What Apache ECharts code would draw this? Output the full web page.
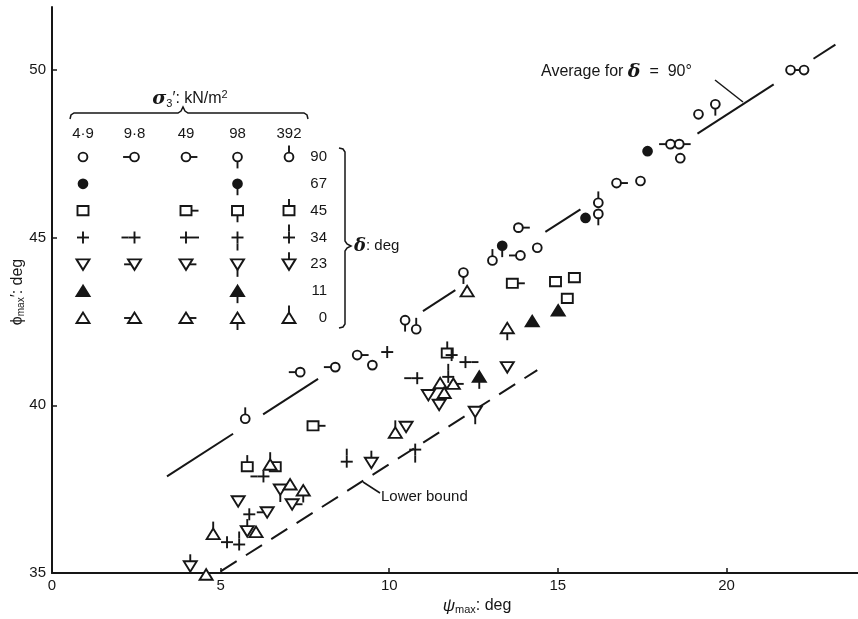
<!DOCTYPE html>
<html><head><meta charset="utf-8">
<script src="https://cdn.jsdelivr.net/npm/echarts@6/dist/echarts.min.js"></script>
<style>html,body{margin:0;padding:0;background:#fff}#c{width:858px;height:619px}</style>
</head><body><div id="c"></div>
<script>
// ---- data ----
const stressLabels = ['4·9','9·8','49','98','392'];           // σ3': kN/m2 (marker tick code 0..4)
const deltaLabels  = ['90','67','45','34','23','11','0'];     // δ: deg (row order)
const shapeKinds   = ['circle','dot','square','plus','down','solidUp','up'];
const legendCombos = [[0,1,2,3,4],[0,3],[0,2,3,4],[0,1,2,3,4],[0,1,2,3,4],[0,3],[0,1,2,3,4]];
const xTicks = [0,5,10,15,20];
const yTicks = [35,40,45,50];
// points: [psi_max, phi_max, stress code]
const delta90 = [[21.9,50.0,2],[22.3,50.0,0],[19.17,48.68,0],[19.67,48.98,3],[18.34,47.79,1],[18.6,47.79,2],
  [18.63,47.37,0],[16.74,46.63,2],[17.45,46.69,0],[16.2,46.04,4],[16.2,45.71,3],[13.83,45.3,2],[14.39,44.7,0],
  [13.06,44.32,4],[13.89,44.47,1],[12.2,43.96,3],[10.47,42.54,3],[10.8,42.27,4],[7.36,40.99,1],[8.4,41.14,1],
  [9.05,41.5,2],[9.5,41.2,0],[5.73,39.6,4]];
const delta67 = [[17.66,47.58,0],[15.82,45.59,0],[13.35,44.76,3]];
const delta45 = [[13.65,43.64,2],[14.93,43.69,0],[15.49,43.81,0],[15.28,43.19,0],[11.72,41.56,4],[7.74,39.39,2],
  [5.79,38.17,4],[6.62,38.17,0]];
const delta34 = [[9.94,41.59,0],[11.85,41.5,0],[12.26,41.29,2],[10.83,40.81,1],[11.75,40.85,4],[8.74,38.32,4],
  [10.77,38.68,3],[6.27,37.88,1],[5.85,36.75,0],[5.19,35.92,0],[5.55,35.85,4]];
const delta23 = [[13.5,41.14,0],[12.55,39.81,3],[10.5,39.36,0],[9.47,38.29,4],[11.16,40.31,0],[11.48,40.02,0],
  [5.52,37.14,0],[6.77,37.49,3],[7.12,37.05,2],[6.38,36.81,1],[5.79,36.25,4],[4.1,35.2,4]];
const delta11 = [[15.01,42.83,0],[14.24,42.51,0],[12.67,40.85,3]];
const delta0  = [[12.31,43.4,0],[13.5,42.3,3],[11.51,40.66,0],[11.9,40.64,2],[11.63,40.37,0],[10.18,39.18,4],
  [6.47,38.23,4],[7.06,37.64,0],[7.45,37.46,3],[6.05,36.22,0],[4.78,36.16,4],[4.57,34.95,0]];
const groups = [delta90, delta67, delta45, delta34, delta23, delta11, delta0];
// reference lines
const avgLine = [[3.41,37.88],[23.23,50.76]];
const avgSegmentsX = [[3.41,5.37],[6.26,7.89],[11.0,11.96],[14.63,15.67],[19.14,21.4],[22.58,23.23]];
const lowerLine = [[5.0,35.05],[14.39,41.05]];

// ---- drawing ----
const INK = '#161616';
const FONT = "'Liberation Sans', Arial, sans-serif";
const GREEK = "'DejaVu Serif', serif";

function marker(kind, s, x, y) {
  const lw = 1.9, L = 7, ch = [];
  const line = (x1,y1,x2,y2) => ch.push({type:'line', shape:{x1,y1,x2,y2}, style:{stroke:INK, lineWidth:lw, fill:null}});
  let hx, ht, hb, body = [];
  const open = {stroke:INK, lineWidth:lw, fill:'#fff'};
  const solid = {stroke:INK, lineWidth:lw, fill:INK};
  if (kind === 'circle' || kind === 'dot') {
    const r = 4.4; hx = ht = hb = r;
    body.push({type:'circle', shape:{cx:x, cy:y, r}, style: kind === 'dot' ? solid : open});
  } else if (kind === 'square') {
    hx = 5.5; ht = hb = 4.6;
    body.push({type:'rect', shape:{x:x-5.5, y:y-4.6, width:11, height:9.2}, style: open});
  } else if (kind === 'down') {
    hx = 3.4; ht = 5; hb = 5.5;
    body.push({type:'polygon', shape:{points:[[x-6.5,y-5],[x+6.5,y-5],[x,y+5.5]]}, style: open});
  } else if (kind === 'up' || kind === 'solidUp') {
    hx = 3.4; ht = 5.5; hb = 5;
    body.push({type:'polygon', shape:{points:[[x,y-5.5],[x-6.5,y+5],[x+6.5,y+5]]}, style: kind === 'solidUp' ? solid : open});
  } else { // plus
    hx = ht = hb = 6;
    line(x-6,y,x+6,y); line(x,y-6,x,y+6);
  }
  if (s === 1) line(x-hx, y, x-hx-L, y);
  if (s === 2) line(x+hx, y, x+hx+L, y);
  if (s === 3) line(x, y+hb, x, y+hb+L);
  if (s === 4) line(x, y-ht, x, y-ht-L);
  return ch.concat(body);
}

const series = [];
const avgY = x => avgLine[0][1] + (avgLine[1][1]-avgLine[0][1])*(x-avgLine[0][0])/(avgLine[1][0]-avgLine[0][0]);
avgSegmentsX.forEach(seg => series.push({
  type:'line', xAxisIndex:0, yAxisIndex:0, silent:true, symbol:'none', animation:false,
  data: seg.map(x => [x, avgY(x)]), lineStyle:{color:INK, width:2}
}));
series.push({type:'line', xAxisIndex:0, yAxisIndex:0, silent:true, symbol:'none', animation:false,
  data: lowerLine, lineStyle:{color:INK, width:2, type:[19,11]}});

groups.forEach((g, gi) => series.push({
  type:'custom', name: deltaLabels[gi], xAxisIndex:0, yAxisIndex:0, animation:false, clip:false, z:5,
  data: g,
  renderItem: (params, api) => {
    const p = api.coord([api.value(0), api.value(1)]);
    return {type:'group', children: marker(shapeKinds[gi], api.value(2), p[0], p[1])};
  }
}));

const legendData = [];
legendCombos.forEach((cols, r) => cols.forEach(c => legendData.push([c, r, c])));
series.push({
  type:'custom', xAxisIndex:1, yAxisIndex:1, animation:false, clip:false, z:5, data: legendData,
  renderItem: (params, api) => {
    const p = api.coord([api.value(0), api.value(1)]);
    return {type:'group', children: marker(shapeKinds[api.value(1)], api.value(2), p[0], p[1])};
  }
});

const braceStyle = {stroke:INK, lineWidth:1.5, fill:null};
const option = {
  backgroundColor:'#fff',
  animation:false,
  textStyle:{fontFamily:FONT, color:INK},
  grid:[
    {left:52, right:0, top:7, bottom:46, containLabel:false},
    {left:83, width:206, top:157, height:161, containLabel:false}
  ],
  xAxis:[
    {type:'value', gridIndex:0, min:0, max:23.9,
     axisLine:{show:true, lineStyle:{color:INK, width:2}},
     axisTick:{show:true, inside:true, length:5, lineStyle:{color:INK, width:1.5}, customValues:xTicks},
     axisLabel:{customValues:xTicks, color:INK, fontSize:15, fontFamily:FONT, margin:5},
     splitLine:{show:false}},
    {type:'category', gridIndex:1, position:'top', boundaryGap:false, data:stressLabels,
     axisLine:{show:false}, axisTick:{show:false}, splitLine:{show:false},
     axisLabel:{color:INK, fontSize:15, fontFamily:FONT, margin:16, interval:0}}
  ],
  yAxis:[
    {type:'value', gridIndex:0, min:35, max:51.88,
     axisLine:{show:true, lineStyle:{color:INK, width:2}},
     axisTick:{show:true, inside:true, length:5, lineStyle:{color:INK, width:1.5}, customValues:yTicks},
     axisLabel:{customValues:yTicks, color:INK, fontSize:15, fontFamily:FONT, margin:6},
     splitLine:{show:false}},
    {type:'category', gridIndex:1, position:'right', inverse:true, boundaryGap:false, data:deltaLabels,
     axisLine:{show:false}, axisTick:{show:false}, splitLine:{show:false},
     axisLabel:{color:INK, fontSize:15, fontFamily:FONT, margin:38, align:'right', interval:0}}
  ],
  series,
  graphic:[
    {type:'text', x:18, y:292, rotation:Math.PI/2, z:10,
     style:{text:'{a|ϕ}{s|max}{a|′: deg}', align:'center', verticalAlign:'middle', fill:INK,
       rich:{a:{fontSize:16, fontFamily:FONT, fill:INK}, s:{fontSize:10, fontFamily:FONT, fill:INK, padding:[7,0,0,0]}}}},
    {type:'text', x:477, y:606, z:10,
     style:{text:'{i|ψ}{s|max}{a|: deg}', align:'center', verticalAlign:'middle', fill:INK,
       rich:{a:{fontSize:16, fontFamily:FONT, fill:INK}, i:{fontSize:17, fontFamily:FONT, fontStyle:'italic', fill:INK}, s:{fontSize:11, fontFamily:FONT, fill:INK, padding:[8,0,0,0]}}}},
    {type:'text', x:190, y:99, z:10,
     style:{text:'{g|σ}{s|3}{a|′: kN/m}{p|2}', align:'center', verticalAlign:'middle', fill:INK,
       rich:{a:{fontSize:16, fontFamily:FONT, fill:INK}, g:{fontSize:19, fontFamily:GREEK, fontStyle:'italic', fontWeight:'bold', fill:INK},
             s:{fontSize:11, fontFamily:FONT, fill:INK, padding:[9,0,0,0]}, p:{fontSize:11, fontFamily:FONT, fill:INK, padding:[0,0,9,0]}}}},
    {type:'polyline', z:10, shape:{points:[[70,119],[71,115],[74,113],[178,113],[181,111],[183,107],[185,111],[188,113],[304,113],[307,115],[308,119]]}, style:braceStyle},
    {type:'polyline', z:10, shape:{points:[[339,148],[343,149],[345,152],[345,241],[347,244],[351,246],[347,248],[345,251],[345,324],[343,327],[339,328]]}, style:braceStyle},
    {type:'text', x:354, y:246, z:10,
     style:{text:'{g|δ}{a|: deg}', align:'left', verticalAlign:'middle', fill:INK,
       rich:{a:{fontSize:15, fontFamily:FONT, fill:INK}, g:{fontSize:18, fontFamily:GREEK, fontStyle:'italic', fontWeight:'bold', fill:INK}}}},
    {type:'text', x:541, y:72, z:10,
     style:{text:'{a|Average for }{g|δ}{a|  =  90°}', align:'left', verticalAlign:'middle', fill:INK,
       rich:{a:{fontSize:16, fontFamily:FONT, fill:INK}, g:{fontSize:19, fontFamily:GREEK, fontStyle:'italic', fontWeight:'bold', fill:INK}}}},
    {type:'line', z:10, shape:{x1:715, y1:80, x2:743, y2:102}, style:{stroke:INK, lineWidth:1.5}},
    {type:'text', x:381, y:497, z:10,
     style:{text:'Lower bound', align:'left', verticalAlign:'middle', fill:INK, fontSize:15, fontFamily:FONT}},
    {type:'line', z:10, shape:{x1:363, y1:482, x2:380, y2:493}, style:{stroke:INK, lineWidth:1.5}}
  ]
};
const chart = echarts.init(document.getElementById('c'));
chart.setOption(option);
</script>
</body></html>
